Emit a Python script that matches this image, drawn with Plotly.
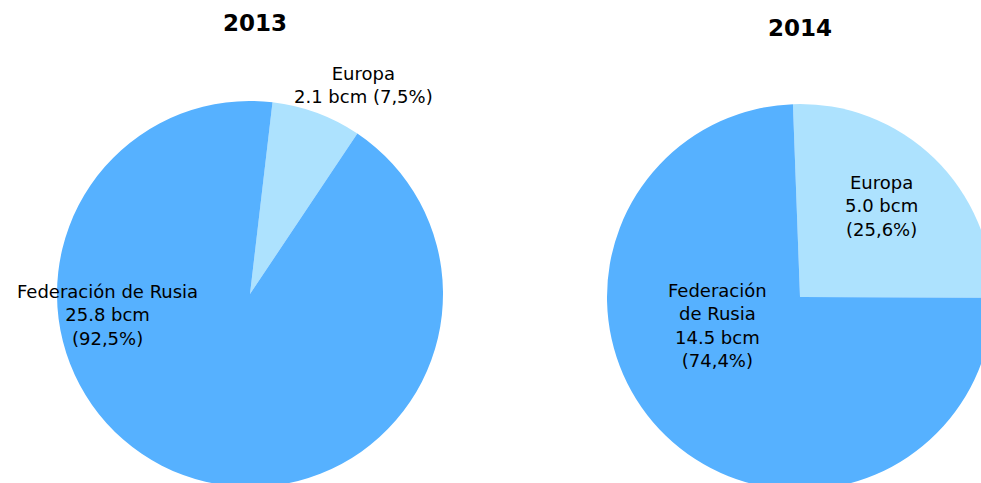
import plotly.graph_objects as go

years = ["2013", "2014"]
regions = ["Europa", "Federación de Rusia"]
values_2013 = [2.1, 25.8]
values_2014 = [5.0, 14.5]
pct_2013 = ["7,5%", "92,5%"]
pct_2014 = ["25,6%", "74,4%"]

colors = ["#ADE2FE", "#56B1FF"]
FONT = "Verdana, DejaVu Sans, sans-serif"

W, H = 1000, 500

def px(x):
    return x / W

def py(y):
    return 1 - y / H

fig = go.Figure()
fig.add_trace(go.Pie(
    labels=regions, values=values_2013, sort=False, direction="clockwise",
    rotation=6.7, textinfo="none", hoverinfo="label+value",
    marker=dict(colors=colors, line=dict(width=0)),
    domain=dict(x=[px(57), px(443)], y=[py(487), py(101)]),
    showlegend=False,
))
fig.add_trace(go.Pie(
    labels=regions, values=values_2014, sort=False, direction="clockwise",
    rotation=-2.1, textinfo="none", hoverinfo="label+value",
    marker=dict(colors=colors, line=dict(width=0)),
    domain=dict(x=[px(607), px(993)], y=[py(490), py(104)]),
    showlegend=False,
))

def ann(x, y, text, size=18):
    return dict(x=px(x), y=py(y), xref="paper", yref="paper", text=text,
                showarrow=False, xanchor="center", yanchor="middle",
                font=dict(family=FONT, size=size, color="black"),
                align="center")

annotations = [
    ann(255, 23, f"<b>{years[0]}</b>", size=23),
    ann(800, 28, f"<b>{years[1]}</b>", size=23),
    ann(363, 85, f"{regions[0]}<br>{values_2013[0]:.1f} bcm ({pct_2013[0]})"),
    ann(107, 315, f"{regions[1]}<br>{values_2013[1]:.1f} bcm<br>({pct_2013[1]})"),
    ann(881, 206, f"{regions[0]}<br>{values_2014[0]:.1f} bcm<br>({pct_2014[0]})"),
    ann(717, 325, "Federación<br>de Rusia" + f"<br>{values_2014[1]:.1f} bcm<br>({pct_2014[1]})"),
]

fig.update_layout(
    width=W, height=H,
    margin=dict(l=0, r=0, t=0, b=0),
    paper_bgcolor="white", plot_bgcolor="white",
    annotations=annotations,
)

fig.write_html(
    "out.html",
    config={"displayModeBar": False},
    post_script="document.body.style.margin='0';document.body.style.overflow='hidden';document.documentElement.style.overflow='hidden';",
)
